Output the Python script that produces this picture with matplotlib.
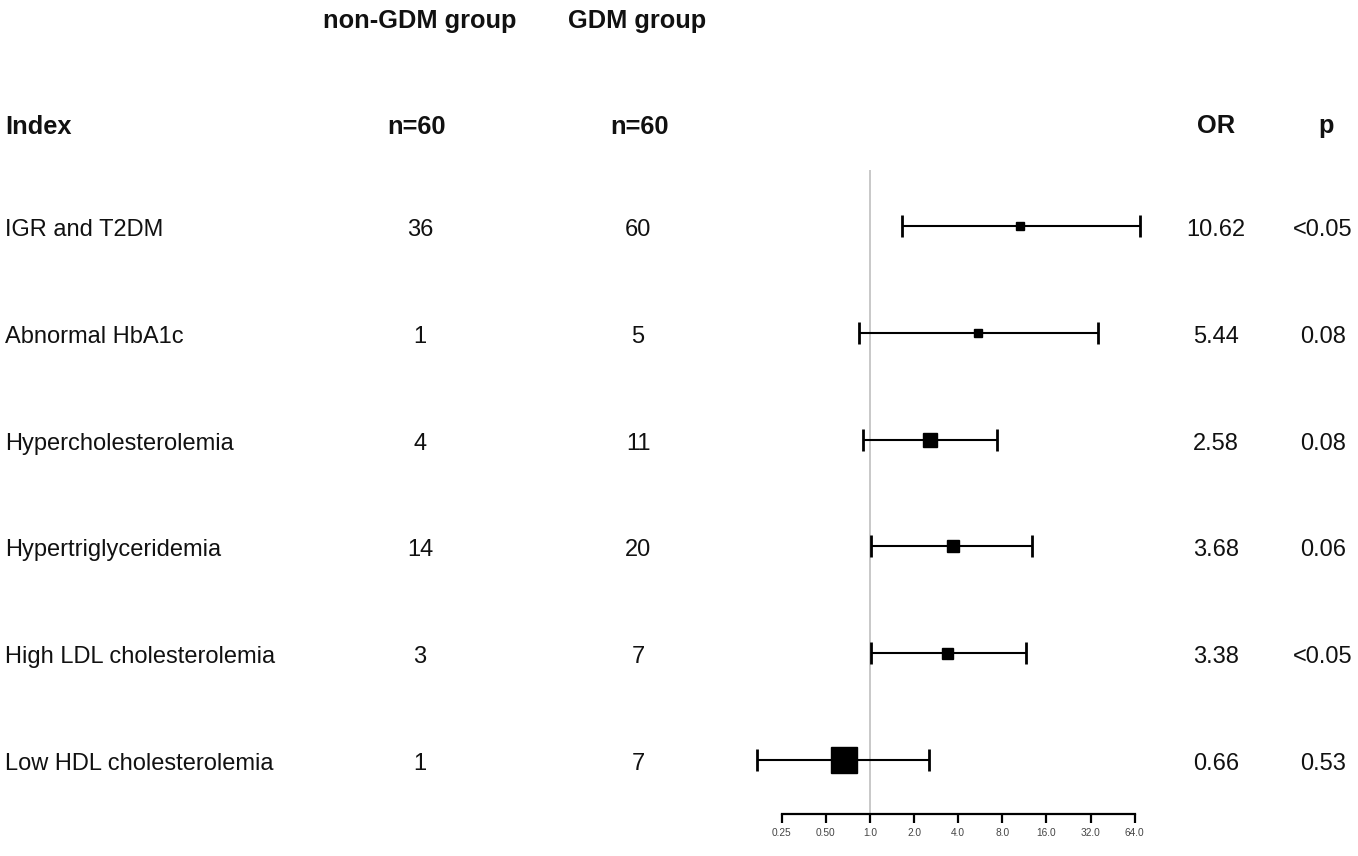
import matplotlib
matplotlib.use("Agg")
import matplotlib.pyplot as plt
import matplotlib.transforms as mtransforms

# ---------------- data ----------------
labels = ["IGR and T2DM", "Abnormal HbA1c", "Hypercholesterolemia",
          "Hypertriglyceridemia", "High LDL cholesterolemia", "Low HDL cholesterolemia"]
non_gdm = ["36", "1", "4", "14", "3", "1"]
gdm = ["60", "5", "11", "20", "7", "7"]
odds = [10.62, 5.44, 2.58, 3.68, 3.38, 0.66]
ci_low = [1.65, 0.84, 0.89, 1.01, 1.01, 0.17]
ci_high = [70.0, 36.0, 7.33, 12.7, 11.7, 2.53]
or_text = ["10.62", "5.44", "2.58", "3.68", "3.38", "0.66"]
p_text = ["<0.05", "0.08", "0.08", "0.06", "<0.05", "0.53"]
tick_vals = [0.25, 0.5, 1, 2, 4, 8, 16, 32, 64]
tick_labels = ["0.25", "0.50", "1.0", "2.0", "4.0", "8.0", "16.0", "32.0", "64.0"]
header_groups = ["non-GDM group", "GDM group"]
header_cols = ["Index", "n=60", "n=60", "OR", "p"]

# box sizes (px) as drawn in the reference
box_px = [8, 8, 13.5, 12, 11, 27]

# ---------------- figure ----------------
W, H, DPI = 1358, 856, 100
fig = plt.figure(figsize=(W / DPI, H / DPI), dpi=DPI)
fig.patch.set_facecolor("white")
plt.rcParams["font.family"] = ["Liberation Sans", "DejaVu Sans"]

def fx(px):
    return px / W

def fy(py):
    return 1 - py / H

x_left, x_right = 781.8, 1134.6
y_top, y_bot = 170, 814
row0, row_step = 226, 106.8
ax = fig.add_axes([fx(x_left), fy(y_bot), fx(x_right) - fx(x_left), fy(y_top) - fy(y_bot)])
ax.set_xscale("log", base=2)
ax.set_xlim(0.25, 64)
ax.set_ylim((y_bot - row0) / row_step, (y_top - row0) / row_step)

for s in ["top", "right", "left"]:
    ax.spines[s].set_visible(False)
ax.spines["bottom"].set_linewidth(1.6)
ax.set_yticks([])
ax.set_xticks(tick_vals)
ax.set_xticklabels(tick_labels)
ax.xaxis.set_minor_locator(matplotlib.ticker.NullLocator())
ax.tick_params(axis="x", direction="out", length=6.5, width=1.6, labelsize=7.3,
               labelcolor="#444444", pad=3.5)
ax.patch.set_alpha(0)

# reference line
ax.axvline(1, color="#c8c8c8", lw=1.4, zorder=0)

rows = list(range(len(labels)))
for i in rows:
    ax.errorbar(odds[i], i,
                xerr=[[odds[i] - ci_low[i]], [ci_high[i] - odds[i]]],
                fmt="none", ecolor="black", elinewidth=1.5, capsize=8.0,
                capthick=2.0, clip_on=False, zorder=2)
    ax.plot(odds[i], i, marker="s", color="black", markersize=box_px[i] * 0.72,
            linestyle="none", clip_on=False, zorder=3)

# ---------------- text columns ----------------
blend = mtransforms.blended_transform_factory(fig.transFigure, ax.transData)
row_tr = mtransforms.offset_copy(blend, fig=fig, y=-10 * 72 / DPI, units="points")

col_label_x = 5
col_non_x = 420
col_gdm_x = 638
col_or_x = 1216
col_p_x = 1323
fs = 17
for i in rows:
    ax.text(fx(col_label_x), i, labels[i], transform=row_tr, ha="left", va="baseline",
            fontsize=fs, color="#111111")
    ax.text(fx(col_non_x), i, non_gdm[i], transform=row_tr, ha="center", va="baseline",
            fontsize=fs, color="#111111")
    ax.text(fx(col_gdm_x), i, gdm[i], transform=row_tr, ha="center", va="baseline",
            fontsize=fs, color="#111111")
    ax.text(fx(col_or_x), i, or_text[i], transform=row_tr, ha="center", va="baseline",
            fontsize=fs, color="#111111")
    ax.text(fx(col_p_x), i, p_text[i], transform=row_tr, ha="center", va="baseline",
            fontsize=fs, color="#111111")

hfs = 18.3
fig.text(fx(col_non_x), fy(28), header_groups[0], ha="center", va="baseline",
         fontsize=hfs, fontweight="bold", color="#111111")
fig.text(fx(637), fy(28), header_groups[1], ha="center", va="baseline",
         fontsize=hfs, fontweight="bold", color="#111111")

fig.text(fx(col_label_x), fy(134), header_cols[0], ha="left", va="baseline",
         fontsize=hfs, fontweight="bold", color="#111111")
fig.text(fx(col_non_x - 4), fy(134), header_cols[1], ha="center", va="baseline",
         fontsize=hfs, fontweight="bold", color="#111111")
fig.text(fx(col_gdm_x + 2), fy(134), header_cols[2], ha="center", va="baseline",
         fontsize=hfs, fontweight="bold", color="#111111")
fig.text(fx(col_or_x), fy(133), header_cols[3], ha="center", va="baseline",
         fontsize=hfs, fontweight="bold", color="#111111")
fig.text(fx(col_p_x + 3), fy(133), header_cols[4], ha="center", va="baseline",
         fontsize=hfs, fontweight="bold", color="#111111")

fig.savefig("out.png", dpi=DPI, facecolor="white")
